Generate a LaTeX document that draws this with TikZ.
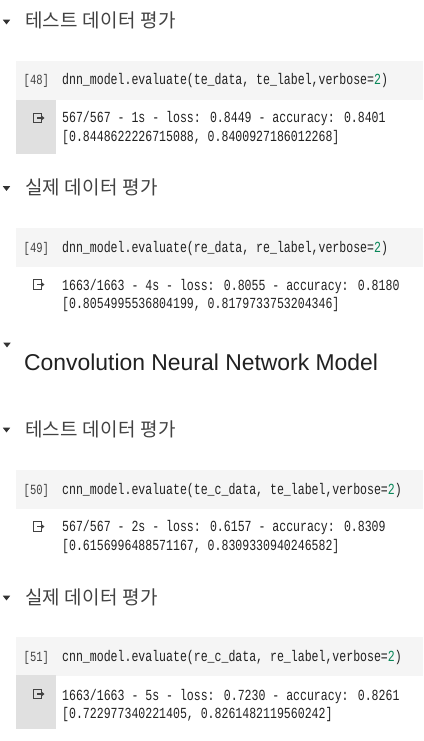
\documentclass[tikz,border=0pt]{standalone}
\usepackage{fontspec}
\setmainfont{Liberation Sans}
\newfontfamily\kofont[LetterSpace=1.5]{Noto Sans CJK KR}
\newfontfamily\codefont[FakeStretch=0.75]{Liberation Mono}
\definecolor{cellbg}{HTML}{F5F5F5}
\definecolor{outbg}{HTML}{E0E0E0}
\definecolor{headc}{HTML}{424242}
\definecolor{caretc}{HTML}{333333}
\definecolor{txtc}{HTML}{212121}
\definecolor{numgreen}{HTML}{098658}
\definecolor{promptc}{HTML}{424242}
\definecolor{iconc}{HTML}{424242}
\tikzset{
  heading/.style={anchor=west, inner sep=0pt, text=headc, font=\kofont\fontsize{19}{20}\selectfont},
  bigheading/.style={anchor=west, inner sep=0pt, text=txtc, font=\fontsize{22.9}{24}\selectfont},
  codeline/.style={anchor=base west, inner sep=0pt, text=txtc, font=\codefont\fontsize{15.4}{16}\selectfont},
  prompt/.style={anchor=base west, inner sep=0pt, text=promptc, font=\codefont\fontsize{14}{16}\selectfont},
  cellbox/.style={anchor=north west, inner sep=0pt, fill=cellbg, minimum width=407pt, minimum height=39pt},
  outbox/.style={anchor=north west, inner sep=0pt, fill=outbg, minimum width=40pt, minimum height=54pt},
  caret/.pic={\fill[caretc] (-3.7,-2.3) -- (3.7,-2.3) -- (0,2.4) -- cycle;},
  outicon/.pic={
    \draw[iconc, line width=1.2pt] (3,-2.3) -- (3,-4.8) -- (-5.2,-4.8) -- (-5.2,4.8) -- (3,4.8) -- (3,2.3);
    \draw[iconc, line width=1.2pt] (-1.5,0) -- (3,0);
    \fill[iconc] (2.5,-2.8) -- (6,0) -- (2.5,2.8) -- cycle;
  }
}
\begin{document}
\begin{tikzpicture}[x=1pt,y=-1pt]
\useasboundingbox (0,0) rectangle (423,741);
\fill[white] (0,0) rectangle (423,741);

% ---------- DNN: test data ----------
\pic at (6.5,22) {caret};
\node[heading] (h1) at (25,20.5) {테스트 데이터 평가};
\node[cellbox] (cell48) at (16,61) {};
\node[outbox] (out48) at (16,100) {};
\node[prompt] (p48) at (23.5,85) {[48]};
\node[codeline] (c48) at (62,85) {dnn\_model.evaluate(te\_data, te\_label,verbose=\textcolor{numgreen}{2})};
\pic at (38.5,118) {outicon};
\node[codeline] (o48a) at (62,122.7) {567/567 - 1s - loss: 0.8449 - accuracy: 0.8401};
\node[codeline] (o48b) at (62,141.7) {[0.8448622226715088, 0.8400927186012268]};

% ---------- DNN: real data ----------
\pic at (6.5,188.5) {caret};
\node[heading] (h2) at (25,187.5) {실제 데이터 평가};
\node[cellbox] (cell49) at (16,228) {};
\node[prompt] (p49) at (23.5,252.3) {[49]};
\node[codeline] (c49) at (62,252.3) {dnn\_model.evaluate(re\_data, re\_label,verbose=\textcolor{numgreen}{2})};
\pic at (38.5,284.5) {outicon};
\node[codeline] (o49a) at (62,290) {1663/1663 - 4s - loss: 0.8055 - accuracy: 0.8180};
\node[codeline] (o49b) at (62,308.5) {[0.8054995536804199, 0.8179733753204346]};

% ---------- CNN heading ----------
\pic at (7,345) {caret};
\node[bigheading] (h3) at (24,362.5) {Convolution Neural Network Model};

% ---------- CNN: test data ----------
\pic at (6.5,430) {caret};
\node[heading] (h4) at (25,429) {테스트 데이터 평가};
\node[cellbox] (cell50) at (16,470) {};
\node[prompt] (p50) at (23.5,494) {[50]};
\node[codeline] (c50) at (62,494) {cnn\_model.evaluate(te\_c\_data, te\_label,verbose=\textcolor{numgreen}{2})};
\pic at (38.5,526.5) {outicon};
\node[codeline] (o50a) at (62,531.7) {567/567 - 2s - loss: 0.6157 - accuracy: 0.8309};
\node[codeline] (o50b) at (62,550.3) {[0.6156996488571167, 0.8309330940246582]};

% ---------- CNN: real data ----------
\pic at (6.5,598) {caret};
\node[heading] (h5) at (25,597) {실제 데이터 평가};
\node[cellbox] (cell51) at (16,637) {};
\node[outbox] (out51) at (16,675) {};
\node[prompt] (p51) at (23.5,661.3) {[51]};
\node[codeline] (c51) at (62,661.3) {cnn\_model.evaluate(re\_c\_data, re\_label,verbose=\textcolor{numgreen}{2})};
\pic at (38.5,694) {outicon};
\node[codeline] (o51a) at (62,700) {1663/1663 - 5s - loss: 0.7230 - accuracy: 0.8261};
\node[codeline] (o51b) at (62,718.3) {[0.722977340221405, 0.8261482119560242]};
\end{tikzpicture}
\end{document}
